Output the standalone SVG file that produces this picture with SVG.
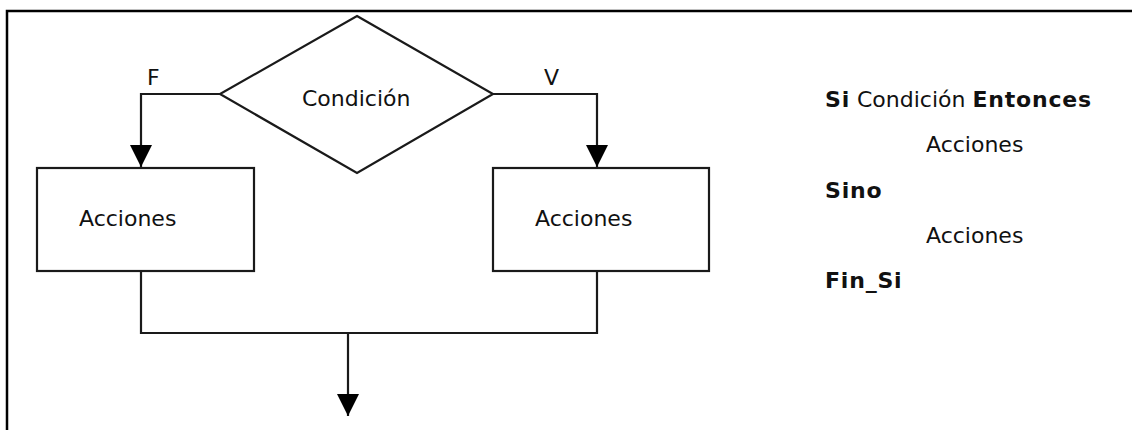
<svg xmlns="http://www.w3.org/2000/svg" width="1132" height="430" viewBox="0 0 1132 430">
<style>
.shape{fill:#fff;stroke:#1a1a1a;stroke-width:2.2}
.conn{fill:none;stroke:#1a1a1a;stroke-width:2.2}
.t{font-family:"DejaVu Sans",Verdana,sans-serif;font-size:22px;fill:#111}
.b{font-weight:bold;letter-spacing:0.8px}
</style>
<defs>
<marker id="arr" markerUnits="userSpaceOnUse" markerWidth="24" markerHeight="24" viewBox="0 0 24 24" refX="22" refY="12" orient="auto">
<path d="M0,1 L22,12 L0,23 Z" fill="#000"/>
</marker>
</defs>
<rect width="1132" height="430" fill="#fff"/>
<path d="M7,430 V11 H1132" fill="none" stroke="#000" stroke-width="2.5"/>
<g id="decision">
<polygon class="shape" points="357,16 493,94 357,173 220,94"/>
<text class="t" x="302" y="106">Condición</text>
</g>
<g id="false-actions">
<rect class="shape" x="37" y="168" width="217" height="103"/>
<text class="t" x="79" y="226">Acciones</text>
</g>
<g id="true-actions">
<rect class="shape" x="493" y="168" width="216" height="103"/>
<text class="t" x="535" y="226">Acciones</text>
</g>
<g id="connectors">
<polyline class="conn" points="220,94 141,94 141,167" marker-end="url(#arr)"/>
<polyline class="conn" points="493,94 597,94 597,167" marker-end="url(#arr)"/>
<polyline class="conn" points="141,271 141,333 597,333 597,271"/>
<polyline class="conn" points="348,333 348,416" marker-end="url(#arr)"/>
<text class="t" x="147" y="85">F</text>
<text class="t" x="544" y="85">V</text>
</g>
<g id="pseudocode">
<text class="t" x="825" y="107"><tspan class="b">Si</tspan> Condición <tspan class="b">Entonces</tspan></text>
<text class="t" x="926" y="152">Acciones</text>
<text class="t b" x="825" y="198">Sino</text>
<text class="t" x="926" y="243">Acciones</text>
<text class="t b" x="825" y="288">Fin_Si</text>
</g>
</svg>
